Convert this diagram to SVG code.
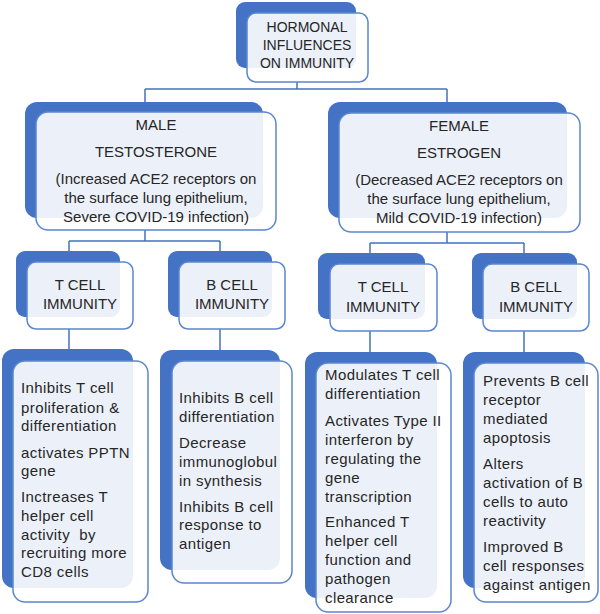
<svg xmlns="http://www.w3.org/2000/svg" width="600" height="614" viewBox="0 0 600 614">
<style>
.bk{fill:#4472C4;}
.fr{fill:#ffffff;fill-opacity:0.9;stroke:#5B86D0;stroke-width:1.5;}
.c{fill:none;stroke:#4472C4;stroke-width:1.5;}
text{font-family:"Liberation Sans",Arial,sans-serif;font-size:15px;fill:#262626;}
.m{text-anchor:middle;}
.d text{letter-spacing:0.4px;}
</style>
<rect width="600" height="614" fill="#ffffff"/>
<g id="connectors">
<path class="c" d="M297,82 V89 M145,89 H447 M145,89 V112 M447,89 V113"/>
<path class="c" d="M145,230 V241 M69,241 H220 M69,241 V262 M220,241 V262"/>
<path class="c" d="M447,232 V243 M370,243 H524 M370,243 V264 M524,243 V264"/>
<path class="c" d="M69,329 V361 M220,329 V361 M370,331 V363 M524,331 V363"/>
</g>
<g id="root">
<rect class="bk" x="236" y="2" width="120" height="66" rx="9"/>
<rect class="fr" x="247" y="13" width="121" height="69" rx="9"/>
<text class="m" x="307" y="32" style="font-size:14px">HORMONAL</text>
<text class="m" x="307" y="50" style="font-size:14px">INFLUENCES</text>
<text class="m" x="307" y="68" style="font-size:14px">ON IMMUNITY</text>
</g>
<g id="male">
<rect class="bk" x="25" y="102" width="238" height="116" rx="12"/>
<rect class="fr" x="36" y="112" width="240" height="118" rx="12"/>
<text class="m" x="156" y="130">MALE</text>
<text class="m" x="156" y="157">TESTOSTERONE</text>
<text class="m" x="156" y="184">(Increased ACE2 receptors on</text>
<text class="m" x="156" y="203">the surface lung epithelium,</text>
<text class="m" x="156" y="222">Severe COVID-19 infection)</text>
</g>
<g id="female">
<rect class="bk" x="328" y="102" width="239" height="116" rx="12"/>
<rect class="fr" x="339" y="113" width="241" height="119" rx="12"/>
<text class="m" x="459" y="131">FEMALE</text>
<text class="m" x="459" y="158">ESTROGEN</text>
<text class="m" x="459" y="185">(Decreased ACE2 receptors on</text>
<text class="m" x="459" y="204">the surface lung epithelium,</text>
<text class="m" x="459" y="223">Mild COVID-19 infection)</text>
</g>
<g id="male-t">
<rect class="bk" x="16" y="251" width="104" height="66" rx="9"/>
<rect class="fr" x="27" y="262" width="106" height="67" rx="9"/>
<text class="m" x="80" y="290">T CELL</text>
<text class="m" x="80" y="309">IMMUNITY</text>
</g>
<g id="male-b">
<rect class="bk" x="168" y="251" width="104" height="66" rx="9"/>
<rect class="fr" x="179" y="262" width="106" height="67" rx="9"/>
<text class="m" x="232" y="290">B CELL</text>
<text class="m" x="232" y="309">IMMUNITY</text>
</g>
<g id="female-t">
<rect class="bk" x="318" y="253" width="107" height="66" rx="9"/>
<rect class="fr" x="330" y="264" width="107" height="67" rx="9"/>
<text class="m" x="383" y="292">T CELL</text>
<text class="m" x="383" y="312">IMMUNITY</text>
</g>
<g id="female-b">
<rect class="bk" x="472" y="253" width="105" height="66" rx="9"/>
<rect class="fr" x="483" y="264" width="106" height="67" rx="9"/>
<text class="m" x="536" y="292">B CELL</text>
<text class="m" x="536" y="312">IMMUNITY</text>
</g>
<g id="male-t-detail" class="d">
<rect class="bk" x="2" y="349" width="131" height="239" rx="12"/>
<rect class="fr" x="13" y="361" width="135" height="241" rx="12"/>
<text x="21" y="393">Inhibits T cell</text>
<text x="21" y="413">proliferation &amp;</text>
<text x="21" y="431">differentiation</text>
<text x="21" y="458">activates PPTN</text>
<text x="21" y="476">gene</text>
<text x="21" y="502">Inctreases T</text>
<text x="21" y="521">helper cell</text>
<text x="21" y="540" xml:space="preserve">activity  by</text>
<text x="21" y="558">recruiting more</text>
<text x="21" y="577">CD8 cells</text>
</g>
<g id="male-b-detail" class="d">
<rect class="bk" x="160" y="350" width="120" height="220" rx="12"/>
<rect class="fr" x="172" y="361" width="120" height="222" rx="12"/>
<text x="179" y="403">Inhibits B cell</text>
<text x="179" y="422">differentiation</text>
<text x="179" y="448">Decrease</text>
<text x="179" y="467">immunoglobul</text>
<text x="179" y="486">in synthesis</text>
<text x="179" y="512">Inhibits B cell</text>
<text x="179" y="530">response to</text>
<text x="179" y="549">antigen</text>
</g>
<g id="female-t-detail" class="d">
<rect class="bk" x="305" y="352" width="132" height="246" rx="12"/>
<rect class="fr" x="316" y="363" width="135" height="249" rx="12"/>
<text x="325" y="380">Modulates T cell</text>
<text x="325" y="399">differentiation</text>
<text x="325" y="426">Activates Type II</text>
<text x="325" y="445">interferon by</text>
<text x="325" y="464">regulating the</text>
<text x="325" y="483">gene</text>
<text x="325" y="502">transcription</text>
<text x="325" y="527">Enhanced T</text>
<text x="325" y="546">helper cell</text>
<text x="325" y="565">function and</text>
<text x="325" y="584">pathogen</text>
<text x="325" y="603">clearance</text>
</g>
<g id="female-b-detail" class="d">
<rect class="bk" x="463" y="352" width="122" height="236" rx="12"/>
<rect class="fr" x="474" y="363" width="124" height="239" rx="12"/>
<text x="483" y="386">Prevents B cell</text>
<text x="483" y="405">receptor</text>
<text x="483" y="424">mediated</text>
<text x="483" y="443">apoptosis</text>
<text x="483" y="469">Alters</text>
<text x="483" y="488">activation of B</text>
<text x="483" y="507">cells to auto</text>
<text x="483" y="526">reactivity</text>
<text x="483" y="552">Improved B</text>
<text x="483" y="571">cell responses</text>
<text x="483" y="590">against antigen</text>
</g>
</svg>
